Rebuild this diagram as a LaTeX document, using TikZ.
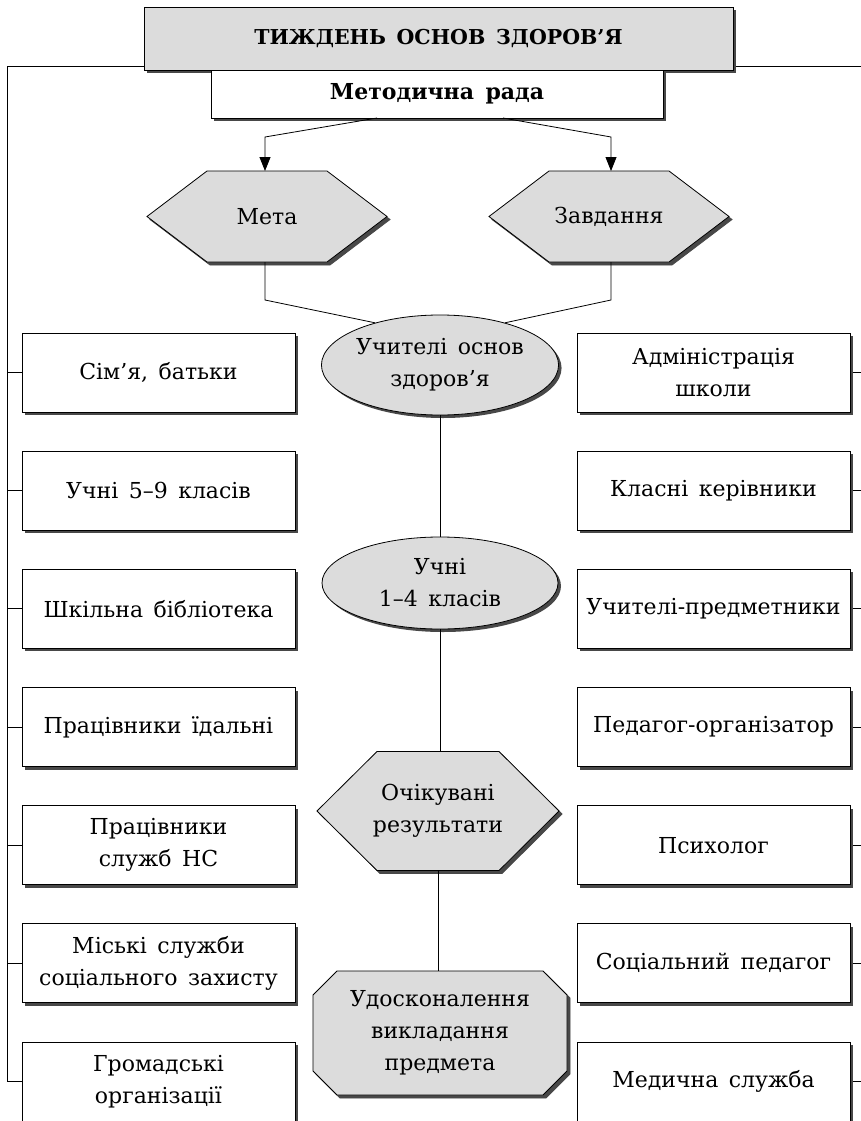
\documentclass[tikz,border=0pt]{standalone}
\usepackage{fontspec}
\setmainfont[WordSpace=1.5]{DejaVu Serif}
\usetikzlibrary{shapes.geometric,shadows,arrows.meta}
\definecolor{boxgray}{RGB}{220,220,220}
\definecolor{shad}{RGB}{72,72,72}
\newcommand\myhex[5]{% cx cy halfwidth halfheight inset
  \foreach \dd/\col/\lc in {3/shad/shad,0/boxgray/black}{
    \filldraw[fill=\col, draw=\lc, line width=0.8pt, shift={(\dd,\dd)}]
      ({#1-#3},#2) -- ({#1-#3+#5},{#2-#4}) -- ({#1+#3-#5},{#2-#4}) -- ({#1+#3},#2)
      -- ({#1+#3-#5},{#2+#4}) -- ({#1-#3+#5},{#2+#4}) -- cycle;}}
\begin{document}
\begin{tikzpicture}[x=1pt,y=-1pt,
  txt/.style={font=\fontsize{22}{32}\selectfont, align=center, inner sep=0},
  shadowed/.style={drop shadow={shadow xshift=3pt, shadow yshift=-3pt, fill=shad, opacity=1}},
  sidebox/.style={draw=black, line width=0.8pt, fill=white, minimum width=273pt, minimum height=79pt,
    inner sep=0, align=center, font=\fontsize{22}{32}\selectfont, shadowed},
  link/.style={draw=black, line width=0.8pt},
  arr/.style={link, -{Triangle[length=14pt,width=11pt]}}
]
\useasboundingbox (0,0) rectangle (861,1121);

% top boxes
\node[draw=black, line width=0.8pt, fill=boxgray, minimum width=589pt, minimum height=63pt, inner sep=0,
  font=\bfseries\fontsize{20.5}{24}\selectfont, shadowed] (top) at (438.5,38.5) {ТИЖДЕНЬ ОСНОВ ЗДОРОВ’Я};
\node[draw=black, line width=0.8pt, fill=white, minimum width=452pt, minimum height=48pt, inner sep=0,
  font=\bfseries\fontsize{22}{24}\selectfont, shadowed] (mr) at (437,94) {Методична рада};

% hexagons Мета / Завдання
\myhex{267}{216.5}{120}{45.5}{60}
\node[txt] (meta) at (267,216.5) {Мета};
\myhex{609}{216.5}{120}{45.5}{60}
\node[txt] (zavd) at (609,216.5) {Завдання};
\coordinate (meta-n) at (265,171);
\coordinate (meta-s) at (265,262);
\coordinate (zavd-n) at (611,171);
\coordinate (zavd-s) at (611,262);

% arrows
\coordinate (mr-l) at (377,118);
\coordinate (mr-r) at (503,118);
\draw[arr] (mr-l) -- (265,137) -- (meta-n);
\draw[arr] (mr-r) -- (611,137) -- (zavd-n);

% ellipses
\node[ellipse, draw=black, line width=0.8pt, fill=boxgray, minimum width=236pt, minimum height=100pt,
  inner sep=0, txt, shadowed] (uch) at (440,365) {Учителі основ\\здоров’я};
\node[ellipse, draw=black, line width=0.8pt, fill=boxgray, minimum width=236pt, minimum height=92pt,
  inner sep=0, txt, shadowed] (uchni) at (440,583) {Учні\\1–4 класів};

\draw[link] (meta-s) -- (265,300) -- (uch.147);
\draw[link] (zavd-s) -- (611,300) -- (uch.33);
\draw[link] (uch.south) -- (uchni.north);

% expected results hexagon
\myhex{438}{811}{121}{59.5}{60}
\node[txt] (res) at (438,811) {Очікувані\\результати};
\coordinate (res-n) at (438,751.5);
\coordinate (res-s) at (438,870.5);
\draw[link] (uchni.south) -- (uchni.south |- res-n);

% octagon
\foreach \dd/\col/\lc in {3/shad/shad,0/boxgray/black}{
  \filldraw[fill=\col, draw=\lc, line width=0.8pt, shift={(\dd,\dd)}]
    (337,971) -- (543,971) -- (567,995) -- (567,1071) -- (543,1095) -- (337,1095) -- (313,1071) -- (313,995) -- cycle;}
\node[txt] (udo) at (440,1033) {Удосконалення\\викладання\\предмета};
\coordinate (udo-n) at (438,971);
\draw[link] (res-s) -- (udo-n);

% left boxes
\node[sidebox] (l1) at (158.5,372.5) {Сім’я, батьки};
\node[sidebox] (l2) at (158.5,490.7) {Учні 5–9 класів};
\node[sidebox] (l3) at (158.5,608.8) {Шкільна бібліотека};
\node[sidebox] (l4) at (158.5,727) {Працівники їдальні};
\node[sidebox] (l5) at (158.5,845.2) {Працівники\\служб НС};
\node[sidebox] (l6) at (158.5,963.3) {Міські служби\\соціального захисту};
\node[sidebox] (l7) at (158.5,1081.5) {Громадські\\організації};

% right boxes
\node[sidebox] (r1) at (713.5,372.5) {Адміністрація\\школи};
\node[sidebox] (r2) at (713.5,490.7) {Класні керівники};
\node[sidebox] (r3) at (713.5,608.8) {Учителі-предметники};
\node[sidebox] (r4) at (713.5,727) {Педагог-організатор};
\node[sidebox] (r5) at (713.5,845.2) {Психолог};
\node[sidebox] (r6) at (713.5,963.3) {Соціальний педагог};
\node[sidebox] (r7) at (713.5,1081.5) {Медична служба};

% left bracket
\coordinate (ltop) at (7,66);
\coordinate (lbot) at (7,1081.5);
\coordinate (topl) at (144,66);
\draw[link] (topl) -- (ltop) -- (lbot) -- (l7.west);
\foreach \n in {l1,l2,l3,l4,l5,l6}{\draw[link] (ltop |- \n.west) -- (\n.west);}

% right ticks
\coordinate (topr) at (736,66);
\coordinate (redge) at (861,66);
\draw[link] (topr) -- (redge);
\foreach \n in {r1,r2,r3,r4,r5,r6,r7}{\draw[link] ([xshift=3pt]\n.east) -- (redge |- \n.east);}
\end{tikzpicture}
\end{document}
